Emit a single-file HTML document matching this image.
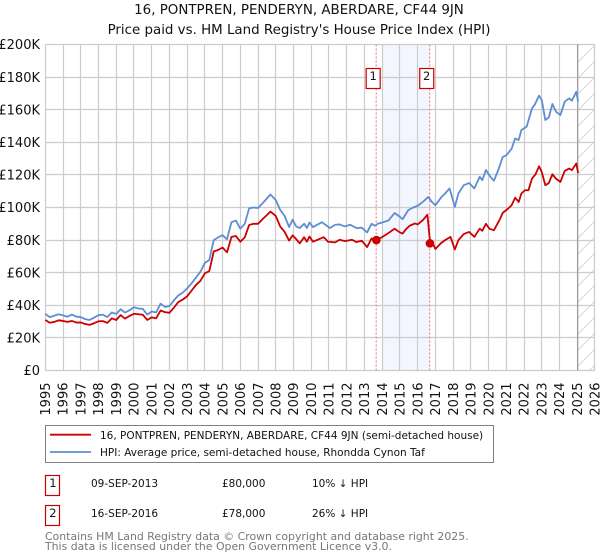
<!DOCTYPE html>
<html>
<head>
<meta charset="utf-8">
<style>
html,body{margin:0;padding:0;background:#fff;}
svg{display:block;font-family:"DejaVu Sans","Liberation Sans",sans-serif;}
</style>
</head>
<body>
<svg id="chart" xmlns="http://www.w3.org/2000/svg" width="600" height="560" viewBox="0 0 600 560">
<defs>
<pattern id="hatch" patternUnits="userSpaceOnUse" width="16" height="16"><path d="M-1 17L17 -1" stroke="#d8d8d8" stroke-width="1"/></pattern>
</defs>
<text x="299" y="14" font-size="13.4" text-anchor="middle" fill="#111">16, PONTPREN, PENDERYN, ABERDARE, CF44 9JN</text>
<text x="299" y="34" font-size="13.4" text-anchor="middle" fill="#111">Price paid vs. HM Land Registry's House Price Index (HPI)</text>
<g id="plot"></g>

<g>
<rect x="45.5" y="425.5" width="448" height="37" fill="#fff" stroke="#808080" stroke-width="1"/>
<line x1="50" y1="434.7" x2="91" y2="434.7" stroke="#cc0000" stroke-width="1.8"/>
<text x="100" y="439" font-size="10.5" fill="#111">16, PONTPREN, PENDERYN, ABERDARE, CF44 9JN (semi-detached house)</text>
<line x1="50" y1="452" x2="91" y2="452" stroke="#5f8dd3" stroke-width="1.8"/>
<text x="100" y="456" font-size="10.5" fill="#111">HPI: Average price, semi-detached house, Rhondda Cynon Taf</text>
</g>

<g font-size="10.5" fill="#111">
<rect x="45.5" y="475.5" width="14" height="20" fill="#fff" stroke="#cc0000" stroke-width="1.2"/>
<text x="49.3" y="487" font-size="11.5">1</text>
<text x="91" y="487">09-SEP-2013</text>
<text x="222" y="487">£80,000</text>
<text x="312" y="487">10% ↓ HPI</text>
<rect x="45.5" y="505.5" width="14" height="20" fill="#fff" stroke="#cc0000" stroke-width="1.2"/>
<text x="49.3" y="517" font-size="11.5">2</text>
<text x="91" y="517">16-SEP-2016</text>
<text x="222" y="517">£78,000</text>
<text x="312" y="517">26% ↓ HPI</text>
</g>

<text x="45" y="540" font-size="10.9" fill="#777">Contains HM Land Registry data © Crown copyright and database right 2025.</text>
<text x="45" y="550" font-size="10.9" fill="#777">This data is licensed under the Open Government Licence v3.0.</text>
</svg>
<script>
const yearTicks = [1995,1996,1997,1998,1999,2000,2001,2002,2003,2004,2005,2006,2007,2008,2009,2010,2011,2012,2013,2014,2015,2016,2017,2018,2019,2020,2021,2022,2023,2024,2025,2026];
const valueTicks = [0,20,40,60,80,100,120,140,160,180,200];
const valueTickLabels = ["£0","£20K","£40K","£60K","£80K","£100K","£120K","£140K","£160K","£180K","£200K"];

const hpiDates = [1995,1995.25,1995.5,1995.75,1996,1996.25,1996.5,1996.75,1997,1997.25,1997.5,1997.75,1998,1998.25,1998.5,1998.75,1999,1999.25,1999.5,1999.75,2000,2000.25,2000.5,2000.75,2001,2001.25,2001.5,2001.75,2002,2002.25,2002.5,2002.75,2003,2003.25,2003.5,2003.75,2004,2004.25,2004.5,2004.75,2005,2005.25,2005.5,2005.75,2006,2006.25,2006.5,2006.75,2007,2007.25,2007.5,2007.7,2008,2008.25,2008.5,2008.75,2008.95,2009.15,2009.35,2009.6,2009.75,2009.9,2010.1,2010.6,2010.8,2011.05,2011.35,2011.6,2011.9,2012.2,2012.55,2012.85,2013.15,2013.4,2013.6,2013.75,2014,2014.35,2014.7,2015,2015.15,2015.47,2015.75,2016,2016.3,2016.6,2016.8,2017,2017.35,2017.55,2017.8,2018.1,2018.3,2018.6,2018.9,2019.2,2019.5,2019.65,2019.85,2020.1,2020.3,2020.55,2020.8,2021,2021.3,2021.5,2021.7,2021.85,2022.15,2022.45,2022.6,2022.85,2023,2023.2,2023.4,2023.6,2023.8,2024.05,2024.3,2024.55,2024.7,2024.95,2025.05];
const hpiValues = [34.8,32.7,33.6,34.5,33.8,33,34.3,33,32.8,31.5,31,32.4,34,34.2,32.8,35.6,34.7,37.6,35.5,37,38.8,38,37.8,34.3,36.2,35.6,41,39,39.5,43,46,47.8,50.4,53.5,57,60.6,66,67.8,80,81.7,83,80.5,91,92,87,90,99.5,100,99.7,102.5,105.6,108,104.6,98.5,94.8,88,92.5,88.4,87.4,90,87.4,90.8,88,91,89.4,87.4,89.4,89.6,88.4,89.4,87.4,87.6,84.7,90,88.8,90,90.8,92,96.6,94.3,92.8,98.4,100,101,103.5,106.5,103.5,101.4,106.5,108.6,111.7,100.4,108.6,113.7,115,111.7,118.8,116.8,123,118.9,116.4,123,131,132,136,142.4,141.4,147.5,149.6,160.8,163,168.6,166,153.7,155.3,163.5,158.8,156.7,165,167,165.5,171,165];

const paidDates = [1995,1995.25,1995.5,1995.75,1996,1996.25,1996.5,1996.75,1997,1997.25,1997.5,1997.75,1998,1998.25,1998.5,1998.75,1999,1999.25,1999.5,1999.75,2000,2000.25,2000.5,2000.75,2001,2001.25,2001.5,2001.75,2002,2002.25,2002.5,2002.75,2003,2003.25,2003.5,2003.75,2004,2004.25,2004.5,2004.75,2005,2005.25,2005.5,2005.75,2006,2006.25,2006.5,2006.75,2007,2007.25,2007.5,2007.7,2008,2008.25,2008.5,2008.75,2008.95,2009.15,2009.35,2009.6,2009.75,2009.9,2010.1,2010.7,2010.95,2011.35,2011.6,2011.9,2012.3,2012.55,2012.85,2013.15,2013.4,2013.69,2014.05,2014.35,2014.7,2015,2015.15,2015.37,2015.55,2015.85,2016,2016.3,2016.55,2016.71,2016.9,2017,2017.3,2017.55,2017.85,2018.1,2018.3,2018.6,2018.9,2019.2,2019.5,2019.65,2019.85,2020.05,2020.3,2020.65,2020.8,2021.1,2021.3,2021.5,2021.7,2021.85,2022.05,2022.25,2022.45,2022.65,2022.85,2023,2023.2,2023.4,2023.6,2023.8,2024.05,2024.3,2024.55,2024.7,2024.95,2025.05];
const paidValues = [31,29.3,29.8,30.8,30.4,29.8,30.4,29.4,29.5,28.5,28,29,30.2,30.3,29.2,32,31,34,31.8,33.5,34.8,34.5,34.2,31,32.6,32,36.8,35.8,35.4,38.5,42,43.5,45.5,49,52.5,55,59.6,61,73,74,75.4,72.5,82,82.5,79,81.7,89.3,90,90,92.8,95.4,97.5,94.8,88.3,85,79.7,82.9,80.6,78,81.8,79,82.2,79,81.8,79,78.6,80.2,79.4,80.2,78.8,79.6,75.7,81,80,82.2,84.3,87,84.7,84,87,88.8,90.2,89.6,92.3,95.6,78,77,74.5,78,80,82,74.3,80,83.7,85,82,87,85.7,90,87,86,93,96.7,99.3,101.4,106,103.4,108.5,110.6,110.6,117.7,120.4,125.3,121.8,113.7,115,120.4,117.7,115.7,122.5,123.9,122.9,127,121.2];

const saleDates = [2013.69,2016.71];
const saleValues = [80,78];
const saleLabels = ["1","2"];
const shadeRange = [2014,2016.71];
const forecastStart = 2025.03;

const xScale = d => 45.3 + (d - 1995) * 17.73;
const yScale = v => 370.5 - v * 1.63;
const snap = p => Math.floor(p) + 0.5;
const NS = 'http://www.w3.org/2000/svg';
const plot = document.getElementById('plot');

function make(tag, attrs, parent) {
  const el = document.createElementNS(NS, tag);
  for (const k in attrs) el.setAttribute(k, attrs[k]);
  (parent || plot).appendChild(el);
  return el;
}
const left = xScale(1995), right = xScale(2026), top_ = yScale(200), bottom = yScale(0);

const shade = make('rect', {x: xScale(shadeRange[0]), y: top_, width: xScale(shadeRange[1]) - xScale(shadeRange[0]), height: bottom - top_, fill: '#f3f6fe'});



const hatch = make('rect', {x: xScale(forecastStart), y: top_, width: right - xScale(forecastStart), height: bottom - top_, fill: 'url(#hatch)'});



yearTicks.forEach(y => {
  const x = snap(xScale(y));
  const g = make('line', {x1: x, x2: x, y1: top_, y2: bottom, stroke: '#cccccc', 'stroke-width': 1.2});
  
  
  const t = make('text', {transform: `translate(${xScale(y) + 4.7},382.5) rotate(-90)`, 'text-anchor': 'end', 'font-size': 13, fill: '#111'});
  t.textContent = y;
  
  
});
valueTicks.forEach((v, i) => {
  const y = snap(yScale(v));
  const g = make('line', {x1: left, x2: right, y1: y, y2: y, stroke: '#cccccc', 'stroke-width': 1.2});
  
  
  const t = make('text', {x: 40, y: yScale(v) + 4.7, 'text-anchor': 'end', 'font-size': 13, fill: '#111'});
  t.textContent = valueTickLabels[i];
  
  
});

saleDates.forEach(d => {
  const l = make('line', {x1: xScale(d) - 0.5, x2: xScale(d) - 0.5, y1: top_, y2: bottom, stroke: '#ff6677', 'stroke-width': 1, 'stroke-dasharray': '2 2'});
  
  
});

const cutoff = make('line', {x1: xScale(forecastStart), x2: xScale(forecastStart), y1: top_, y2: bottom, stroke: '#999999', 'stroke-width': 1.2});



function pathFor(ds, vs) {
  return ds.map((d, i) => (i ? 'L' : 'M') + xScale(d).toFixed(2) + ' ' + yScale(vs[i]).toFixed(2)).join('');
}
const hpiLine = make('path', {d: pathFor(hpiDates, hpiValues), fill: 'none', stroke: '#5f8dd3', 'stroke-width': 1.8, 'stroke-linejoin': 'round'});


const paidLine = make('path', {d: pathFor(paidDates, paidValues), fill: 'none', stroke: '#cc0000', 'stroke-width': 1.8, 'stroke-linejoin': 'round'});



saleDates.forEach((d, i) => {
  const c = make('circle', {cx: xScale(d) - 0.3, cy: yScale(saleValues[i]), r: 4.3, fill: '#cc0000'});
  
  
  const bx = xScale(d) - 10.5;
  const b = make('rect', {x: bx, y: 68.5, width: 14, height: 20, fill: '#fff', stroke: '#cc0000', 'stroke-width': 1.2});
  
  
  const t = make('text', {x: bx + 7, y: 80, 'text-anchor': 'middle', 'font-size': 11.5, fill: '#111'});
  t.textContent = saleLabels[i];
  
  
});
</script>
</body>
</html>
